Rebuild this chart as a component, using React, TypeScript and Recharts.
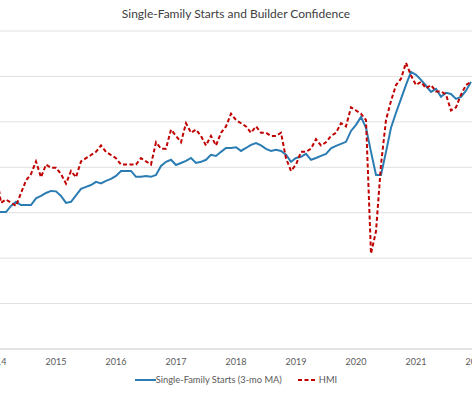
import { LineChart, Line, XAxis, YAxis, CartesianGrid } from "recharts";

// tick labels, one per January (month index 0 = Jan 2014)
const years = [2014, 2015, 2016, 2017, 2018, 2019, 2020, 2021, 2022];

// single-family starts, 3-month moving average, thousands (SAAR), Jan 2014 - Dec 2021
const starts = [
  605, 603, 603, 630, 648, 634, 634, 634, 663, 674, 687, 696,
  694, 674, 643, 648, 676, 705, 714, 722, 736, 729, 740, 749,
  762, 784, 784, 784, 758, 758, 762, 758, 766, 806, 824, 833,
  810, 819, 828, 841, 819, 824, 833, 855, 850, 868, 885, 885,
  888, 872, 885, 899, 907, 896, 881, 872, 877, 872, 855, 824,
  841, 846, 859, 833, 841, 850, 859, 883, 894, 903, 912, 960,
  987, 1022, 974, 868, 766, 766, 868, 974, 1040, 1101, 1163, 1220,
  1207, 1185, 1159, 1132, 1145, 1110, 1128, 1123, 1101, 1110, 1137, 1176,
];

// NAHB/Wells Fargo Housing Market Index, Jan 2014 - Dec 2021
const hmi = [
  56, 46, 47, 46, 45, 49, 53, 55, 59, 54, 58, 57,
  57, 55, 52, 56, 54, 59, 60, 61, 62, 64, 62, 61,
  60, 58, 58, 58, 58, 60, 59, 58, 65, 63, 63, 69,
  67, 65, 71, 68, 69, 67, 64, 67, 64, 68, 70, 74,
  72, 71, 70, 68, 70, 68, 68, 67, 67, 68, 60, 56,
  58, 62, 62, 63, 66, 64, 65, 67, 68, 71, 70, 76,
  75, 74, 72, 30, 37, 58, 72, 78, 83, 85, 90, 86,
  83, 84, 82, 83, 81, 81, 80, 75, 76, 80, 83, 84,
];

const startTicks = [0, 200, 400, 600, 800, 1000, 1200, 1400];

const data = starts.map((s, i) => ({ m: i, starts: s, hmi: hmi[i] }));
const yearTicks = years.map((_, i) => i * 12);

const BLUE = "#2b7cb3";
const RED = "#c00000";
const FONT = "Lato, 'Noto Sans', sans-serif";

export default function App() {
  return (
    <div
      style={{
        position: "fixed",
        left: 0,
        top: 0,
        width: 472,
        height: 394,
        overflow: "hidden",
        background: "#fff",
        fontFamily: FONT,
      }}
    >
      <div
        style={{
          position: "absolute",
          top: 7,
          left: 0,
          width: 472,
          textAlign: "center",
          fontSize: 12,
          lineHeight: "14px",
          color: "#404040",
        }}
      >
        Single-Family Starts and Builder Confidence
      </div>

      <div style={{ position: "absolute", left: -40, top: 0 }}>
        <LineChart
          width={552}
          height={394}
          data={data}
          margin={{ top: 31, right: 36, bottom: 15, left: 36 }}
        >
          <CartesianGrid yAxisId="left" vertical={false} stroke="#e0e0e0" />
          <XAxis
            dataKey="m"
            type="number"
            domain={[0, 96]}
            ticks={yearTicks}
            tickFormatter={(v: number) => String(years[v / 12])}
            tickLine={false}
            tickSize={0}
            tickMargin={10}
            axisLine={{ stroke: "#d9d9d9" }}
            height={30}
            tick={{ fontSize: 9, fill: "#595959", fontFamily: FONT }}
            interval={0}
          />
          <YAxis yAxisId="left" hide domain={[0, 1400]} ticks={startTicks} />
          <YAxis yAxisId="right" orientation="right" hide domain={[0, 100]} />
          <Line
            yAxisId="left"
            dataKey="starts"
            stroke={BLUE}
            strokeWidth={2}
            dot={false}
            type="linear"
            isAnimationActive={false}
          />
          <Line
            yAxisId="right"
            dataKey="hmi"
            stroke={RED}
            strokeWidth={2}
            strokeDasharray="4 2.5"
            dot={false}
            type="linear"
            isAnimationActive={false}
          />
        </LineChart>
      </div>

      <div
        style={{
          position: "absolute",
          top: 373,
          left: 0,
          width: 472,
          display: "flex",
          justifyContent: "center",
          alignItems: "center",
          fontSize: 9.3,
          lineHeight: "14px",
          color: "#595959",
        }}
      >
        <svg width={21} height={4}>
          <line x1={0} y1={2} x2={21} y2={2} stroke={BLUE} strokeWidth={2} />
        </svg>
        <span>Single-Family Starts (3-mo MA)</span>
        <svg width={18} height={4} style={{ marginLeft: 16, marginRight: 3 }}>
          <line x1={0} y1={2} x2={18} y2={2} stroke={RED} strokeWidth={2} strokeDasharray="4 2.5" />
        </svg>
        <span>HMI</span>
      </div>
    </div>
  );
}
